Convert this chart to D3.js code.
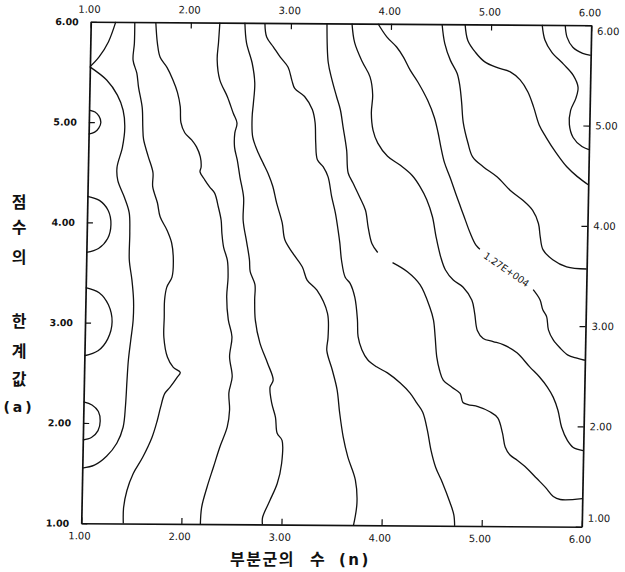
<!DOCTYPE html>
<html><head><meta charset="utf-8">
<script src="https://cdn.jsdelivr.net/npm/d3@7"></script>
<style>body{margin:0;background:#fff}svg{display:block}</style>
</head><body><svg id="c" width="625" height="572"></svg>
<script>
// ---- data ----
const nTicks = [1, 2, 3, 4, 5, 6];
const aTicks = [1, 2, 3, 4, 5, 6];
const xTitleParts = ["부분군의", "수", "(n)"];
const yTitle = ["점", "수", "의", "한", "계", "값", "(a)"];
const contourLabel = "1.27E+004";
const contourLabelAt = [5.20, 3.56];

const lineA1 = [[1.25,6.00],[1.18,5.80],[1.09,5.65],[1.00,5.55]];
const lineA2 = [[1.00,5.55],[1.17,5.42],[1.28,5.27],[1.34,5.12],[1.36,4.95],[1.34,4.75],[1.29,4.55],[1.30,4.42],[1.37,4.25],[1.42,4.10],[1.43,3.90],[1.43,3.63],[1.46,3.43],[1.48,3.23],[1.48,3.03],[1.46,2.83],[1.44,2.63],[1.43,2.43],[1.42,2.18],[1.40,1.96],[1.34,1.80],[1.24,1.67],[1.12,1.58],[1.00,1.55]];
const lineB = [[1.44,6.00],[1.44,5.79],[1.43,5.62],[1.47,5.49],[1.49,5.35],[1.53,5.15],[1.54,4.95],[1.55,4.83],[1.60,4.66],[1.65,4.50],[1.65,4.36],[1.70,4.20],[1.73,4.06],[1.80,3.93],[1.85,3.80],[1.87,3.63],[1.86,3.46],[1.81,3.36],[1.79,3.23],[1.79,3.06],[1.79,2.86],[1.83,2.66],[1.89,2.56],[1.96,2.51],[1.93,2.46],[1.86,2.36],[1.81,2.30],[1.77,2.16],[1.74,2.03],[1.69,1.86],[1.60,1.66],[1.51,1.50],[1.45,1.33],[1.42,1.16],[1.42,1.00]];
const lineC = [[1.65,6.00],[1.67,5.79],[1.70,5.65],[1.77,5.55],[1.83,5.43],[1.88,5.30],[1.91,5.16],[1.92,5.00],[1.96,4.90],[2.03,4.83],[2.08,4.76],[2.12,4.66],[2.13,4.56],[2.12,4.51],[2.17,4.43],[2.22,4.36],[2.27,4.30],[2.31,4.16],[2.34,4.03],[2.35,3.90],[2.37,3.76],[2.41,3.63],[2.42,3.46],[2.41,3.27],[2.43,3.04],[2.47,2.87],[2.45,2.67],[2.48,2.47],[2.45,2.31],[2.46,2.14],[2.44,1.97],[2.37,1.77],[2.31,1.57],[2.25,1.37],[2.20,1.17],[2.19,1.00]];
const lineD = [[2.29,6.00],[2.28,5.80],[2.27,5.63],[2.30,5.43],[2.38,5.26],[2.44,5.10],[2.48,5.00],[2.46,4.90],[2.46,4.76],[2.49,4.63],[2.52,4.46],[2.56,4.26],[2.56,4.03],[2.60,3.81],[2.63,3.64],[2.64,3.52],[2.69,3.39],[2.69,3.24],[2.70,3.04],[2.75,2.81],[2.83,2.61],[2.89,2.44],[2.86,2.37],[2.88,2.21],[2.92,2.07],[2.94,1.91],[2.99,1.84],[2.99,1.61],[2.95,1.41],[2.88,1.24],[2.81,1.07],[2.81,1.00]];
const lineE = [[2.54,6.00],[2.56,5.80],[2.62,5.60],[2.65,5.40],[2.64,5.20],[2.63,5.06],[2.64,4.86],[2.70,4.70],[2.75,4.60],[2.80,4.50],[2.85,4.37],[2.89,4.21],[2.95,4.01],[2.98,3.84],[3.06,3.71],[3.16,3.57],[3.21,3.44],[3.31,3.34],[3.42,3.11],[3.43,2.87],[3.42,2.74],[3.48,2.54],[3.53,2.35],[3.56,2.12],[3.60,1.88],[3.65,1.68],[3.73,1.45],[3.75,1.22],[3.72,1.00]];
const lineF = [[2.74,6.00],[2.76,5.86],[2.83,5.76],[2.90,5.66],[2.98,5.56],[3.02,5.43],[3.05,5.35],[3.15,5.27],[3.23,5.14],[3.26,5.01],[3.27,4.81],[3.29,4.64],[3.35,4.57],[3.40,4.47],[3.44,4.27],[3.48,4.11],[3.51,3.94],[3.53,3.81],[3.55,3.64],[3.59,3.47],[3.64,3.41],[3.69,3.27],[3.72,3.05],[3.73,2.88],[3.77,2.75],[3.83,2.65],[3.92,2.58],[4.03,2.52],[4.16,2.42],[4.26,2.32],[4.33,2.22],[4.39,2.13],[4.44,1.95],[4.48,1.75],[4.53,1.58],[4.60,1.43],[4.68,1.23],[4.72,1.11],[4.73,1.00]];
const lineG1 = [[3.36,6.00],[3.38,5.61],[3.42,5.44],[3.47,5.27],[3.51,5.14],[3.54,4.97],[3.58,4.74],[3.60,4.51],[3.65,4.41],[3.72,4.27],[3.78,4.14],[3.81,3.97],[3.85,3.81],[3.91,3.72]];
const lineG2 = [[4.06,3.62],[4.21,3.53],[4.34,3.40],[4.44,3.18],[4.48,3.05],[4.50,2.88],[4.52,2.68],[4.55,2.55],[4.59,2.45],[4.68,2.38],[4.76,2.32],[4.79,2.23],[4.84,2.21],[4.94,2.19],[5.06,2.14],[5.14,2.08],[5.19,1.93],[5.22,1.79],[5.27,1.71],[5.34,1.66],[5.44,1.58],[5.54,1.48],[5.63,1.39],[5.71,1.30],[5.78,1.27],[6.00,1.28]];
const lineH = [[3.61,6.00],[3.64,5.81],[3.72,5.62],[3.80,5.47],[3.83,5.29],[3.82,5.11],[3.84,4.94],[3.89,4.81],[3.99,4.68],[4.12,4.59],[4.24,4.49],[4.32,4.38],[4.39,4.25],[4.45,4.08],[4.49,3.88],[4.54,3.68],[4.59,3.55],[4.67,3.45],[4.77,3.38],[4.86,3.25],[4.89,3.12],[4.92,2.95],[4.98,2.87],[5.08,2.84],[5.18,2.81],[5.32,2.73],[5.45,2.59],[5.55,2.49],[5.63,2.39],[5.69,2.29],[5.74,2.16],[5.78,1.99],[5.84,1.86],[5.90,1.79],[6.00,1.76]];
const lineI1 = [[3.87,6.00],[3.96,5.87],[4.06,5.77],[4.13,5.67],[4.20,5.54],[4.28,5.42],[4.38,5.24],[4.45,5.07],[4.49,4.92],[4.52,4.78],[4.56,4.62],[4.62,4.47],[4.69,4.28],[4.76,4.10],[4.83,3.92],[4.89,3.80],[4.93,3.76]];
const lineI2 = [[5.47,3.36],[5.54,3.26],[5.57,3.16],[5.61,3.09],[5.63,2.96],[5.68,2.86],[5.75,2.78],[5.83,2.71],[5.92,2.68],[6.00,2.66]];
const lineJ = [[4.51,6.00],[4.54,5.81],[4.60,5.64],[4.67,5.51],[4.70,5.38],[4.72,5.22],[4.74,5.02],[4.79,4.82],[4.84,4.68],[4.95,4.58],[5.09,4.48],[5.22,4.35],[5.35,4.25],[5.45,4.15],[5.51,4.02],[5.53,3.89],[5.56,3.76],[5.66,3.66],[5.80,3.59],[6.00,3.57]];
const lineK = [[4.74,6.00],[4.77,5.84],[4.85,5.72],[4.94,5.63],[5.07,5.57],[5.20,5.53],[5.30,5.45],[5.38,5.33],[5.44,5.18],[5.50,5.00],[5.57,4.88],[5.67,4.73],[5.78,4.59],[5.89,4.49],[6.00,4.41]];
const lineL = [[5.51,6.00],[5.54,5.85],[5.61,5.73],[5.73,5.61],[5.83,5.50],[5.88,5.38],[5.86,5.27],[5.81,5.15],[5.80,5.01],[5.84,4.88],[5.93,4.79],[6.00,4.76]];
const lineM = [[5.74,6.00],[5.76,5.88],[5.82,5.78],[5.92,5.72],[6.00,5.70]];
const circ5 = [[1.00,5.12],[1.06,5.10],[1.10,5.06],[1.12,5.00],[1.10,4.94],[1.06,4.90],[1.00,4.88]];
const circ4 = [[1.00,4.26],[1.12,4.22],[1.21,4.12],[1.24,3.98],[1.21,3.84],[1.12,3.74],[1.00,3.70]];
const circ3 = [[1.00,3.35],[1.135,3.30],[1.23,3.18],[1.27,3.01],[1.23,2.84],[1.135,2.72],[1.00,2.67]];
const circ2 = [[1.00,2.21],[1.085,2.18],[1.15,2.115],[1.17,2.02],[1.15,1.925],[1.085,1.855],[1.00,1.83]];

const contours = [lineA1, lineA2, lineB, lineC, lineD, lineE, lineF, lineG1, lineG2,
  lineH, lineI1, lineI2, lineJ, lineK, lineL, lineM, circ5, circ4, circ3, circ2];

// ---- drawing ----
const W = 500, H = 500;
const svg = d3.select("#c");
svg.append("rect").attr("width", 625).attr("height", 572).attr("fill", "#fff");
// slight scan skew of the original frame
const g = svg.append("g").attr("transform", "matrix(1.001,0.007,-0.019,1.003,90.75,21.75)");
const x = d3.scaleLinear().domain([1, 6]).range([0, W]);
const y = d3.scaleLinear().domain([1, 6]).range([H, 0]);
const fmt = d3.format(".2f");
const line = d3.line().x(d => x(d[0])).y(d => y(d[1])).curve(d3.curveCatmullRom.alpha(0.5));

g.selectAll("path.c").data(contours).join("path").attr("class", "c")
  .attr("d", line).attr("fill", "none").attr("stroke", "#111")
  .attr("stroke-width", 1.3).attr("stroke-linejoin", "round");

g.append("text")
  .attr("transform", `translate(${x(contourLabelAt[0])},${y(contourLabelAt[1])}) rotate(34)`)
  .attr("text-anchor", "middle").attr("dominant-baseline", "central")
  .attr("font-family", "DejaVu Sans").attr("font-size", 9.5).attr("fill", "#111")
  .text(contourLabel);

function styleAxis(sel, bold) {
  sel.select(".domain").attr("stroke", "#111").attr("stroke-width", 1.7);
  sel.selectAll(".tick line").attr("stroke", "#111").attr("stroke-width", 1.2);
  sel.selectAll(".tick text").attr("font-family", "DejaVu Sans").attr("font-size", bold ? 9.5 : 10)
    .attr("font-weight", bold ? "bold" : "normal").attr("fill", "#111");
}
const axB = g.append("g").attr("transform", `translate(0,${H})`)
  .call(d3.axisBottom(x).tickValues(nTicks).tickFormat(fmt).tickSizeInner(-6).tickSizeOuter(0).tickPadding(9));
const axT = g.append("g")
  .call(d3.axisTop(x).tickValues(nTicks).tickFormat(fmt).tickSizeInner(-6).tickSizeOuter(0).tickPadding(9));
const axL = g.append("g")
  .call(d3.axisLeft(y).tickValues(aTicks).tickFormat(fmt).tickSizeInner(-6).tickSizeOuter(0).tickPadding(12));
const axR = g.append("g").attr("transform", `translate(${W},0)`)
  .call(d3.axisRight(y).tickValues(aTicks).tickFormat(fmt).tickSizeInner(-6).tickSizeOuter(0).tickPadding(6));
styleAxis(axB, false); styleAxis(axT, false); styleAxis(axL, true); styleAxis(axR, false);
axB.selectAll(".tick text").attr("dx", -2);
axT.selectAll(".tick text").attr("dx", -2);
axR.selectAll(".tick text").filter(d => d === 1).attr("dy", "-0.55em");
axR.selectAll(".tick text").filter(d => d === 6).attr("dy", "0.9em");

// axis titles
const yPos = [201, 226, 256, 320, 350, 378, 407];
svg.append("g").selectAll("text").data(yTitle).join("text")
  .attr("x", 19).attr("y", (d, i) => yPos[i])
  .attr("text-anchor", "middle").attr("dominant-baseline", "central")
  .attr("font-family", (d) => d === "(a)" ? "DejaVu Sans" : "Noto Sans CJK KR")
  .attr("font-weight", "bold").attr("font-size", d => d === "(a)" ? 14 : 16)
  .attr("letter-spacing", d => d === "(a)" ? 3 : 0)
  .attr("fill", "#111").text(d => d);

const xt = svg.append("text").attr("y", 565)
  .attr("font-family", "Noto Sans CJK KR").attr("font-weight", "bold")
  .attr("font-size", 16).attr("fill", "#111");
const xtX = [230, 310, 339];
xt.selectAll("tspan").data(xTitleParts).join("tspan")
  .attr("x", (d, i) => xtX[i])
  .attr("letter-spacing", (d, i) => i === 2 ? 2.5 : 1.5)
  .attr("font-family", (d, i) => i === 2 ? "DejaVu Sans" : "Noto Sans CJK KR")
  .attr("font-size", (d, i) => i === 2 ? 15 : 16)
  .text(d => d);
</script></body></html>
